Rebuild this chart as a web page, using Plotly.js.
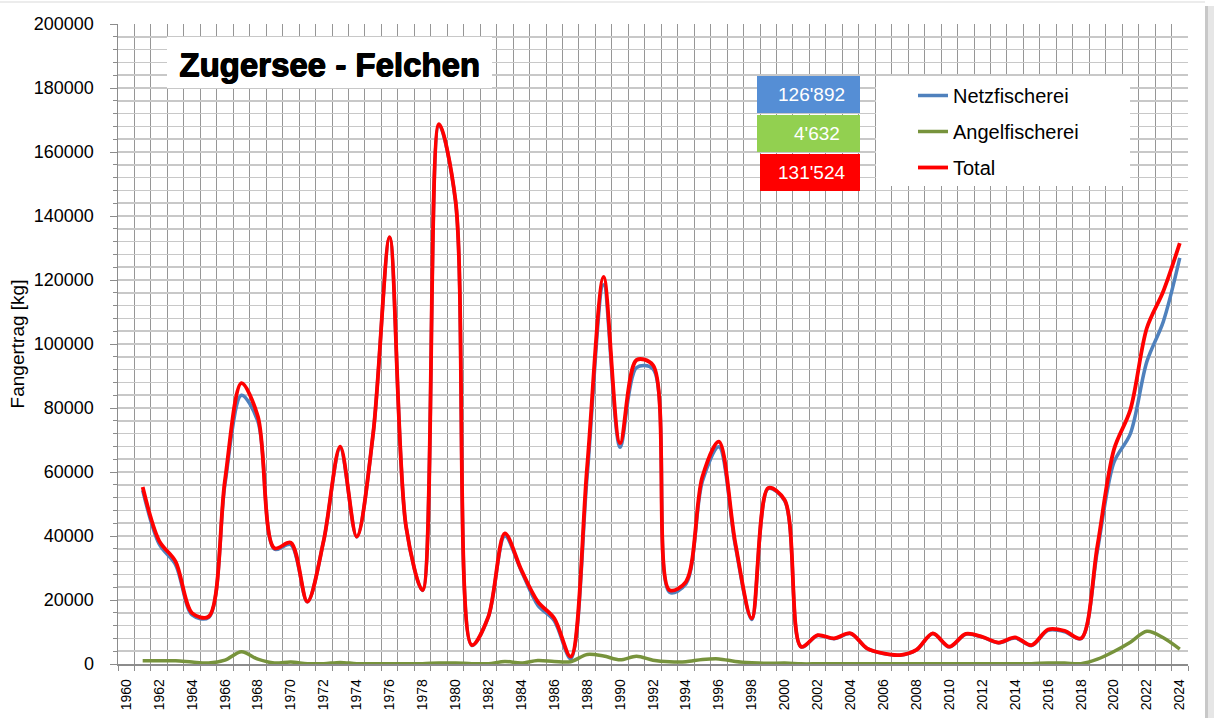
<!DOCTYPE html>
<html>
<head>
<meta charset="utf-8">
<script src="https://cdn.plot.ly/plotly-3.0.1.min.js"></script>
<style>
  html, body { margin: 0; padding: 0; background: #ffffff; }
  #chart { width: 1219px; height: 720px; }
</style>
</head>
<body>
<div id="chart"></div>
<script>
// ---- data ----
const years = [
  1961,1962,1963,1964,1965,1966,1967,1968,1969,1970,
  1971,1972,1973,1974,1975,1976,1977,1978,1979,1980,
  1981,1982,1983,1984,1985,1986,1987,1988,1989,1990,
  1991,1992,1993,1994,1995,1996,1997,1998,1999,2000,
  2001,2002,2003,2004,2005,2006,2007,2008,2009,2010,
  2011,2012,2013,2014,2015,2016,2017,2018,2019,2020,
  2021,2022,2023,2024
];
const netzfischerei = [
  54300,37500,31000,15300,14500,56300,84000,75800,35900,37300,
  19400,38600,67400,39700,71900,133300,42800,23000,168400,144700,
  5800,14700,40000,29100,18400,13500,1600,58700,118500,67700,
  92600,92200,22400,25000,57100,67900,37000,13900,54800,50950,
  5350,8900,7900,9500,4850,3250,2750,4350,9500,5300,
  9300,8400,6600,8150,5750,10500,10100,7900,35500,63000,
  72000,94500,107000,126892
];
const angelfischerei = [
  1000,1000,1000,600,300,1200,3800,1500,300,600,
  100,100,500,100,100,100,100,100,300,300,
  100,100,800,300,1100,800,700,3000,2500,1300,
  2400,1200,700,700,1400,1600,800,400,200,300,
  50,50,50,50,50,50,50,50,50,50,
  50,50,50,100,100,300,300,100,1500,3900,
  6800,10200,8200,4632
];
const total = [
  55300,38500,32000,15900,14800,57500,87800,77300,36200,37900,
  19500,38700,67900,39800,72000,133400,42900,23100,168700,145000,
  5900,14800,40800,29400,19500,14300,2300,61700,121000,69000,
  95000,93400,23100,25700,58500,69500,37800,14300,55000,51250,
  5400,9000,8000,9600,4900,3300,2800,4400,9600,5400,
  9400,8500,6700,8300,5900,10800,10400,8000,37000,67000,
  79500,105000,116500,131524
];
const seriesNames = ["Netzfischerei", "Angelfischerei", "Total"];
const latestLabels = ["126'892", "4'632", "131'524"];
const tickYears = [1960,1962,1964,1966,1968,1970,1972,1974,1976,1978,1980,1982,1984,1986,1988,1990,1992,1994,1996,1998,2000,2002,2004,2006,2008,2010,2012,2014,2016,2018,2020,2022,2024];
const chartTitle = "Zugersee - Felchen";
const yTitle = "Fangertrag [kg]";

// ---- geometry helpers (pixel -> paper) ----
const W = 1219, H = 720;
const M = { l: 118, r: 31, t: 24, b: 56 };
const PW = W - M.l - M.r, PH = H - M.t - M.b;
const px = p => (p - M.l) / PW;
const py = p => (H - M.b - p) / PH;

const colNetz = "#4F81BD", colAngel = "#77933C", colTotal = "#FF0000";
const FONT = "Liberation Sans, Arial, sans-serif";

const traces = [
  { x: years, y: netzfischerei, name: seriesNames[0], legendgroup: "a",
    type: "scatter", mode: "lines",
    line: { color: colNetz, width: 3.5, shape: "spline", smoothing: 0.9 } },
  { x: years, y: angelfischerei, name: seriesNames[1], legendgroup: "b",
    type: "scatter", mode: "lines",
    line: { color: colAngel, width: 3.5, shape: "spline", smoothing: 0.9 } },
  { x: years, y: total, name: seriesNames[2], legendgroup: "c",
    type: "scatter", mode: "lines",
    line: { color: colTotal, width: 3.8, shape: "spline", smoothing: 0.9 } }
];

const boxFills = ["#558ED5", "#92D050", "#FF0000"];
const boxRects = [[757, 76, 860, 113], [757, 115, 860, 152], [760, 154, 860, 191]];
const boxTextX = [811, 817, 811];

const shapes = [
  { type: "rect", xref: "paper", yref: "paper", x0: px(1205), x1: px(1208), y0: py(718), y1: py(6),
    fillcolor: "#c8c8c8", line: { width: 0 }, layer: "above" },
  { type: "rect", xref: "paper", yref: "paper", x0: px(1208), x1: px(1214), y0: py(718), y1: py(6),
    fillcolor: "#e6e6e6", line: { width: 0 }, layer: "above" },
  { type: "line", xref: "paper", yref: "paper", x0: px(0), x1: px(1205), y0: py(2), y1: py(2),
    line: { color: "#ececec", width: 2 }, layer: "above" },
  { type: "rect", xref: "paper", yref: "paper", x0: px(167), x1: px(492), y0: py(88), y1: py(37),
    fillcolor: "#ffffff", line: { width: 0 }, layer: "above" },
  { type: "rect", xref: "paper", yref: "paper", x0: px(876), x1: px(1130), y0: py(186), y1: py(76),
    fillcolor: "#ffffff", line: { width: 0 }, layer: "above" }
];
boxRects.forEach((r, i) => {
  shapes.push({ type: "rect", xref: "paper", yref: "paper",
    x0: px(r[0]), x1: px(r[2]), y0: py(r[3]), y1: py(r[1]),
    fillcolor: boxFills[i], line: { width: 0 }, layer: "above" });
});

const annotations = [
  { xref: "paper", yref: "paper", x: px(329), y: py(64), text: chartTitle, showarrow: false,
    xanchor: "center", yanchor: "middle",
    font: { family: FONT, size: 33, weight: 700, color: "#000000",
            shadow: "1px 0px 0px #000, 0.5px 0.5px 0px #000, 0px 0.6px 0px #000" } }
];
boxRects.forEach((r, i) => {
  annotations.push({ xref: "paper", yref: "paper", x: px(boxTextX[i]), y: py((r[1] + r[3]) / 2),
    text: latestLabels[i], showarrow: false, xanchor: "center", yanchor: "middle",
    font: { family: FONT, size: 19, color: "#ffffff" } });
});

const layout = {
  width: W, height: H,
  margin: M,
  paper_bgcolor: "#ffffff", plot_bgcolor: "#ffffff",
  showlegend: true,
  legend: {
    x: px(913), y: py(76), xanchor: "left", yanchor: "top",
    bgcolor: "rgba(0,0,0,0)", borderwidth: 0,
    font: { family: FONT, size: 20, color: "#000000" },
    traceorder: "grouped", tracegroupgap: 7, itemwidth: 30
  },
  xaxis: {
    range: [1959.5, 2024.5],
    tickmode: "array", tickvals: tickYears, ticktext: tickYears.map(String),
    tickangle: -90, ticks: "", showgrid: false, zeroline: false,
    showline: true, linecolor: "#8c8c8c", linewidth: 1.5,
    tickfont: { family: FONT, size: 14, color: "#000000" },
    ticklabelstandoff: 8,
    minor: { tickmode: "linear", tick0: 1959.5, dtick: 1, showgrid: true,
             gridcolor: "#969696", gridwidth: 1,
             ticks: "outside", ticklen: 5, tickcolor: "#8c8c8c" }
  },
  yaxis: {
    range: [0, 200000], dtick: 20000, tick0: 0, tickformat: "d",
    showgrid: true, gridcolor: "#c8c8c8", gridwidth: 1.6, zeroline: false,
    showline: true, linecolor: "#8c8c8c", linewidth: 1.5,
    ticks: "outside", ticklen: 7, tickcolor: "#8c8c8c",
    tickfont: { family: FONT, size: 18, color: "#000000" },
    ticklabelstandoff: 12,
    minor: { dtick: 4000, showgrid: true, gridcolor: "#c8c8c8", gridwidth: 1.6,
             ticks: "outside", ticklen: 4, tickcolor: "#8c8c8c" },
    title: { text: yTitle, standoff: 4,
             font: { family: FONT, size: 19, color: "#000000" } }
  },
  shapes: shapes,
  annotations: annotations
};

Plotly.newPlot("chart", traces, layout, { displayModeBar: false, staticPlot: true });
</script>
</body>
</html>
